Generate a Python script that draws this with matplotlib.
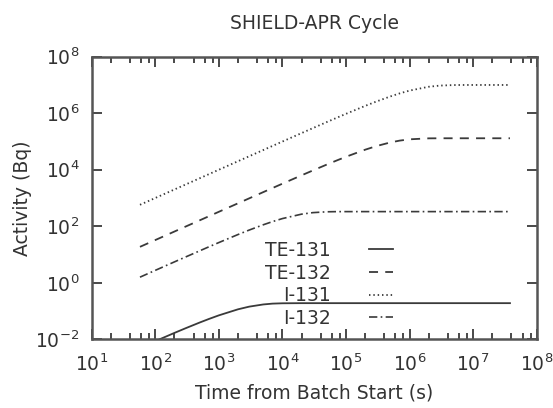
import matplotlib
matplotlib.use("Agg")
import matplotlib.pyplot as plt
from matplotlib.ticker import LogLocator, FixedLocator, NullFormatter, NullLocator

# time from batch start (s)
time_s = [57.5, 100, 200, 300, 500, 700, 1e3, 2e3, 3e3, 5e3, 7e3, 1e4, 2e4, 3e4,
          5e4, 7e4, 1e5, 2e5, 3e5, 5e5, 7e5, 1e6, 2e6, 3e6, 5e6, 7e6, 1e7, 2e7, 3.8e7]

# activity (Bq) for each nuclide at the times above
te131 = [0.00498, 0.00858, 0.0168, 0.0246, 0.0392, 0.0525, 0.0703, 0.115, 0.143, 0.171,
         0.183, 0.188, 0.19, 0.19, 0.19, 0.19, 0.19, 0.19, 0.19, 0.19, 0.19, 0.19, 0.19,
         0.19, 0.19, 0.19, 0.19, 0.19, 0.19]
te132 = [18.7, 32.5, 65.0, 97.5, 162, 227, 325, 648, 971, 1615, 2255, 3210, 6340, 9390,
         15280, 20870, 28760, 51150, 68590, 92750, 107400, 119300, 129100, 129900,
         130000, 130000, 130000, 130000, 130000]
i131 = [575, 1000, 2000, 3000, 5000, 7000, 9995, 19980, 29960, 49880, 69760, 99500,
        198000, 295500, 487700, 676000, 951600, 1.813e6, 2.592e6, 3.935e6, 5.034e6,
        6.321e6, 8.647e6, 9.502e6, 9.933e6, 9.991e6, 1e7, 1e7, 1e7]
i132 = [1.58, 2.75, 5.48, 8.18, 13.5, 18.8, 26.5, 50.9, 73.3, 112.8, 146.3, 187.1, 268.1,
        303.2, 325.0, 329.1, 329.9, 330, 330, 330, 330, 330, 330, 330, 330, 330, 330, 330, 330]

labels = ["TE-131", "TE-132", "I-131", "I-132"]
y_ticks = [1e-2, 1e0, 1e2, 1e4, 1e6, 1e8]

plt.rcParams['font.family'] = ['DejaVu Sans']
txt = '#333333'
ink = '#3a3a3a'
fs = 13.5

fig = plt.figure(figsize=(5.53, 4.08), dpi=100)
ax = fig.add_axes([0.1658, 0.1684, 0.8047, 0.6926])

ax.plot(time_s, te131, color=ink, lw=1.3, label=labels[0])
ax.plot(time_s, te132, color=ink, lw=1.3, dashes=(5, 4), label=labels[1])
ax.plot(time_s, i131, color=ink, lw=1.3, dashes=(0.8, 1.6), label=labels[2])
ax.plot(time_s, i132, color=ink, lw=1.2, dashes=(5, 2, 1, 2), label=labels[3])

ax.set_xscale('log')
ax.set_yscale('log')
ax.set_xlim(1e1, 1e8)
ax.set_ylim(1e-2, 1e8)

ax.xaxis.set_major_locator(LogLocator(base=10, numticks=20))
ax.xaxis.set_minor_locator(LogLocator(base=10, subs=[2, 4, 6, 8], numticks=20))
ax.xaxis.set_minor_formatter(NullFormatter())
ax.yaxis.set_major_locator(FixedLocator(y_ticks))
ax.yaxis.set_minor_locator(NullLocator())

ax.tick_params(which='both', direction='in', top=True, right=True, colors=ink,
               labelcolor=txt, labelsize=fs, width=1.3)
ax.tick_params(which='major', length=7)
ax.tick_params(which='minor', length=4)
ax.tick_params(axis='x', which='major', pad=10)
ax.tick_params(axis='y', which='major', pad=9)
for s in ax.spines.values():
    s.set_color('#555555')
    s.set_linewidth(1.8)

ax.set_title("SHIELD-APR Cycle", fontsize=fs, color=txt, pad=20)
ax.set_xlabel("Time from Batch Start (s)", fontsize=fs, color=txt, labelpad=6)
ax.set_ylabel("Activity (Bq)", fontsize=fs, color=txt, labelpad=2)

leg = ax.legend(markerfirst=False, frameon=False, loc='lower left',
                bbox_to_anchor=(0.365, 0.0), fontsize=fs, handlelength=1.3,
                handletextpad=2.0, labelspacing=0.2, borderpad=0.1)
for t in leg.get_texts():
    t.set_color(txt)

fig.savefig("out.png", dpi=100)
